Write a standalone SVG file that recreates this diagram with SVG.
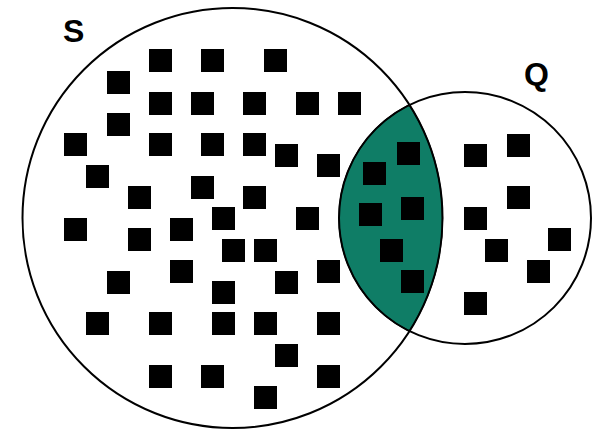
<svg xmlns="http://www.w3.org/2000/svg" width="592" height="430" viewBox="0 0 592 430">
<defs>
<style>
.set{fill:none;stroke:#000;stroke-width:2}
.lens{fill:#0f7d66;stroke:#000;stroke-width:1.2}
.lbl{font-family:"Liberation Sans",Arial,sans-serif;font-weight:bold;font-size:32px;fill:#000}
.e{fill:#000}
</style>
<rect id="sq" width="23" height="23"/>
</defs>
<rect width="592" height="430" fill="#fff"/>
<g id="intersection">
<path class="lens" d="M409.45 104.9 A126 126 0 0 0 409.45 331.1 A210 210 0 0 0 409.45 104.9 Z"/>
</g>
<g id="S">
<circle class="set" cx="232.5" cy="218" r="210"/>
<text class="lbl" x="63" y="42">S</text>
</g>
<g id="Q">
<circle class="set" cx="465" cy="218" r="126"/>
<text class="lbl" x="524" y="85">Q</text>
</g>
<g id="elements" class="e">
<use href="#sq" x="149" y="49"/><use href="#sq" x="201" y="49"/><use href="#sq" x="264" y="49"/>
<use href="#sq" x="107" y="71"/>
<use href="#sq" x="149" y="92"/><use href="#sq" x="191" y="92"/><use href="#sq" x="243" y="92"/><use href="#sq" x="296" y="92"/><use href="#sq" x="338" y="92"/>
<use href="#sq" x="107" y="113"/>
<use href="#sq" x="64" y="133"/><use href="#sq" x="149" y="133"/><use href="#sq" x="201" y="133"/><use href="#sq" x="243" y="133"/>
<use href="#sq" x="275" y="144"/>
<use href="#sq" x="317" y="154"/>
<use href="#sq" x="397" y="142"/>
<use href="#sq" x="363" y="162"/>
<use href="#sq" x="464" y="144"/><use href="#sq" x="507" y="134"/>
<use href="#sq" x="86" y="165"/>
<use href="#sq" x="191" y="176"/>
<use href="#sq" x="128" y="186"/><use href="#sq" x="243" y="186"/>
<use href="#sq" x="507" y="186"/>
<use href="#sq" x="212" y="207"/><use href="#sq" x="296" y="207"/>
<use href="#sq" x="359" y="203"/><use href="#sq" x="401" y="197"/>
<use href="#sq" x="464" y="207"/>
<use href="#sq" x="64" y="218"/><use href="#sq" x="170" y="218"/>
<use href="#sq" x="128" y="228"/>
<use href="#sq" x="222" y="239"/><use href="#sq" x="254" y="239"/>
<use href="#sq" x="380" y="239"/>
<use href="#sq" x="485" y="239"/><use href="#sq" x="548" y="228"/>
<use href="#sq" x="170" y="260"/><use href="#sq" x="317" y="260"/>
<use href="#sq" x="107" y="271"/><use href="#sq" x="275" y="271"/>
<use href="#sq" x="401" y="270"/>
<use href="#sq" x="527" y="260"/>
<use href="#sq" x="212" y="281"/>
<use href="#sq" x="464" y="292"/>
<use href="#sq" x="86" y="312"/><use href="#sq" x="149" y="312"/><use href="#sq" x="212" y="312"/><use href="#sq" x="254" y="312"/><use href="#sq" x="317" y="312"/>
<use href="#sq" x="275" y="344"/>
<use href="#sq" x="149" y="365"/><use href="#sq" x="201" y="365"/><use href="#sq" x="317" y="365"/>
<use href="#sq" x="254" y="386"/>
</g>
</svg>
